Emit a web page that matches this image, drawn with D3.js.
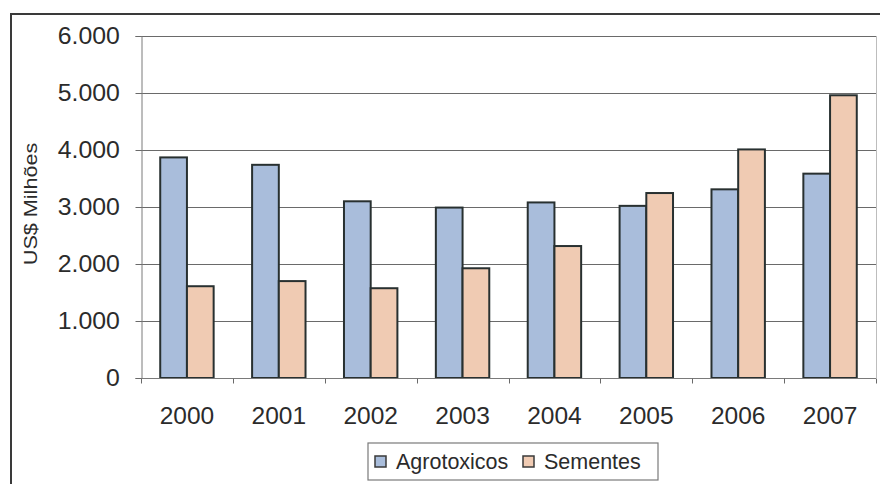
<!DOCTYPE html>
<html>
<head>
<meta charset="utf-8">
<script src="https://cdn.jsdelivr.net/npm/d3@7"></script>
<style>
  html, body { margin: 0; padding: 0; background: #fff; }
  svg { display: block; }
  text { font-family: "Liberation Sans", Arial, sans-serif; fill: #2b2b2b; }
</style>
</head>
<body>
<svg id="chart" width="880" height="484"></svg>
<script>
// Annual market value, US$ millions
const years = ["2000", "2001", "2002", "2003", "2004", "2005", "2006", "2007"];
const seriesNames = ["Agrotoxicos", "Sementes"];
const agrotoxicos = [3870, 3740, 3100, 2990, 3080, 3020, 3310, 3585];
const sementes = [1610, 1700, 1575, 1925, 2315, 3245, 4010, 4960];
const yTicks = [0, 1000, 2000, 3000, 4000, 5000, 6000];
const yTickLabels = ["0", "1.000", "2.000", "3.000", "4.000", "5.000", "6.000"];
const seriesColors = ["#a9bddb", "#f0cbb3"];

const svg = d3.select("#chart");
const W = 880, H = 484;
const plot = { left: 141, right: 876, top: 36, bottom: 378 };

// outer frame (right/bottom sides run past the canvas)
svg.append("rect")
  .attr("x", 11).attr("y", 14)
  .attr("width", W + 20).attr("height", H + 20)
  .attr("fill", "#fff").attr("stroke", "#3a3a3a").attr("stroke-width", 2);

const x0 = d3.scaleBand().domain(years).range([plot.left, plot.right]).padding(0);
const x1 = d3.scaleBand().domain(seriesNames).range([0, x0.bandwidth()])
  .paddingInner(0).paddingOuter(0.72);
const y = d3.scaleLinear().domain([0, 6000]).range([plot.bottom, plot.top]);

// horizontal gridlines
svg.append("g")
  .selectAll("line").data(yTicks.filter(d => d > 0)).join("line")
  .attr("x1", plot.left).attr("x2", plot.right)
  .attr("y1", d => Math.round(y(d)) + 0.5).attr("y2", d => Math.round(y(d)) + 0.5)
  .attr("stroke", "#6a6a6a").attr("stroke-width", 1);

// right edge of plot area
svg.append("line")
  .attr("x1", plot.right + 0.5).attr("x2", plot.right + 0.5)
  .attr("y1", plot.top).attr("y2", plot.bottom)
  .attr("stroke", "#bdbdbd").attr("stroke-width", 1);

// bars
const rows = years.map((yr, i) => ({ year: yr, values: [agrotoxicos[i], sementes[i]] }));
const groups = svg.append("g").selectAll("g").data(rows).join("g")
  .attr("transform", d => `translate(${x0(d.year)},0)`);
groups.selectAll("rect")
  .data(d => d.values.map((v, k) => ({ key: seriesNames[k], value: v, k })))
  .join("rect")
  .attr("x", d => x1(d.key))
  .attr("y", d => y(d.value))
  .attr("width", x1.bandwidth())
  .attr("height", d => y(0) - y(d.value))
  .attr("fill", d => seriesColors[d.k])
  .attr("stroke", "#283030").attr("stroke-width", 2);

// y axis
const yAxis = d3.axisLeft(y).tickValues(yTicks)
  .tickFormat((d, i) => yTickLabels[i]).tickSize(6).tickPadding(12);
const gy = svg.append("g").attr("transform", `translate(${plot.left + 0.5},0)`).call(yAxis);
gy.select(".domain").attr("stroke", "#7a7a7a");
gy.selectAll(".tick line").attr("stroke", "#6a6a6a");
gy.selectAll("text").attr("font-size", 23).attr("fill", "#2b2b2b")
  .attr("font-family", "Liberation Sans, Arial, sans-serif")
  .attr("transform", "scale(1.08,1)").attr("dx", -2);

// x axis: ticks at category boundaries, labels centered in each band
const xb = d3.scaleLinear().domain([0, years.length]).range([plot.left, plot.right]);
const gx = svg.append("g").attr("transform", `translate(0,${plot.bottom + 0.5})`);
gx.append("line").attr("x1", plot.left).attr("x2", plot.right)
  .attr("stroke", "#7a7a7a");
gx.selectAll("line.tk").data(d3.range(years.length + 1)).join("line")
  .attr("class", "tk")
  .attr("x1", d => Math.round(xb(d)) + 0.5).attr("x2", d => Math.round(xb(d)) + 0.5)
  .attr("y1", 0).attr("y2", 5).attr("stroke", "#6a6a6a");
gx.selectAll("text").data(years).join("text")
  .attr("x", d => x0(d) + x0.bandwidth() / 2)
  .attr("y", 45.5)
  .attr("text-anchor", "middle")
  .attr("font-size", 24.5)
  .text(d => d);

// y axis title
svg.append("text")
  .attr("transform", "translate(36.5,204) rotate(-90) scale(1.2,1)")
  .attr("text-anchor", "middle")
  .attr("font-size", 18)
  .attr("fill", "#262626")
  .text("US$ Milhões");

// legend
const lg = svg.append("g").attr("transform", "translate(368,443)");
lg.append("rect").attr("width", 290).attr("height", 37)
  .attr("fill", "#fff").attr("stroke", "#7a7a7a").attr("stroke-width", 1.2);
const items = [
  { name: seriesNames[0], color: seriesColors[0], x: 7 },
  { name: seriesNames[1], color: seriesColors[1], x: 155 }
];
const li = lg.selectAll("g.item").data(items).join("g")
  .attr("class", "item").attr("transform", d => `translate(${d.x},0)`);
li.append("rect").attr("x", 0).attr("y", 13).attr("width", 11).attr("height", 11)
  .attr("fill", d => d.color).attr("stroke", "#3a3a3a").attr("stroke-width", 1.5);
li.append("text").attr("x", 21).attr("y", 26)
  .attr("font-size", 21.5)
  .text(d => d.name);
</script>
</body>
</html>
